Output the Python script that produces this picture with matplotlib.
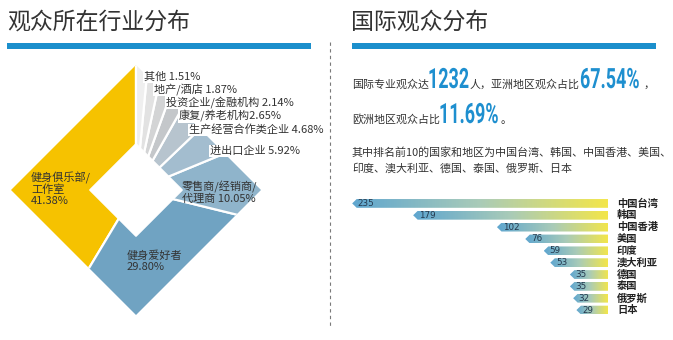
import numpy as np
import matplotlib
matplotlib.use("Agg")
import matplotlib.pyplot as plt
from matplotlib.patches import Polygon
from matplotlib.colors import LinearSegmentedColormap
from matplotlib.patheffects import AbstractPathEffect
from matplotlib.transforms import Affine2D

plt.rcParams['font.family'] = ['Noto Sans CJK SC', 'DejaVu Sans']

# 观众所在行业分布
industries = ['健身俱乐部/\n工作室', '健身爱好者', '零售商/经销商/\n代理商', '进出口企业',
              '生产经营合作类企业', '康复/养老机构', '投资企业/金融机构', '地产/酒店', '其他']
shares = [41.38, 29.80, 10.05, 5.92, 4.68, 2.65, 2.14, 1.87, 1.51]
industry_colors = ['#F6C200', '#70A3C2', '#8FB4CB', '#A3BDCF', '#B7C4CE',
                   '#C4C7CA', '#D3D4D5', '#E2E2E2', '#EFEFEF']

# 国际观众分布
regions = ['中国台湾', '韩国', '中国香港', '美国', '印度', '澳大利亚', '德国', '泰国', '俄罗斯', '日本']
visitors = [235, 179, 102, 76, 59, 53, 35, 35, 32, 29]
total_intl = 1232
asia_pct = 67.54
europe_pct = 11.69


class Tall(AbstractPathEffect):
    """Stretch glyphs vertically from the baseline (condensed, tall numerals)."""

    def __init__(self, sy):
        super().__init__()
        self.sy = sy

    def draw_path(self, renderer, gc, tpath, affine, rgbFace=None):
        ox, oy = affine.transform((0, 0))
        stretch = Affine2D().translate(-ox, -oy).scale(1, self.sy).translate(ox, oy)
        renderer.draw_path(gc, tpath, affine + stretch, rgbFace)


W, H = 673, 340
fig = plt.figure(figsize=(W / 100, H / 100), dpi=100)

bg = fig.add_axes([0, 0, 1, 1])
bg.set_xlim(0, W)
bg.set_ylim(H, 0)
bg.axis('off')
bg.set_zorder(5)

dark = '#333333'
blue = '#1E8FCF'

# headers
bg.text(7, 22, '观众所在行业分布', fontsize=16.5, color=dark, va='center', ha='left')
bg.text(351, 22, '国际观众分布', fontsize=16.5, color=dark, va='center', ha='left')
bg.add_patch(plt.Rectangle((7, 43), 304, 6, color='#1B8FCC', lw=0))
bg.add_patch(plt.Rectangle((352, 43), 304, 6, color='#1B8FCC', lw=0))
bg.plot([330, 330], [42, 326], color='#7a7a7a', lw=0.8, ls=(0, (3, 3)))

# diamond pie
cx, cy, half = 136, 190, 125
pie_ax = fig.add_axes([(cx - half) / W, (H - cy - half) / H, 2 * half / W, 2 * half / H])
wedges, _ = pie_ax.pie(shares, colors=industry_colors, startangle=90, counterclock=True,
                       radius=1.6, wedgeprops=dict(edgecolor='white', linewidth=1.6))
pie_ax.set_xlim(-1, 1)
pie_ax.set_ylim(-1, 1)
pie_ax.axis('off')
outer = Polygon([(0, 1), (1, 0), (0, -1), (-1, 0)], closed=True, transform=pie_ax.transData)
for w in wedges:
    w.set_clip_on(True)
    w.set_clip_path(outer)
hole = 0.37
pie_ax.add_patch(Polygon([(0, hole), (hole, 0), (0, -hole), (-hole, 0)], closed=True,
                         facecolor='white', edgecolor='white', zorder=5))

label_pos = [(31, 189), (127, 261), (182, 192), (210, 151), (189, 130),
             (179, 116), (166, 102), (154, 89), (144, 77)]
for name, share, (lx, ly) in zip(industries, shares, label_pos):
    if name.startswith('健身'):
        sep = '\n'
    elif name == '康复/养老机构':
        sep = ''
    else:
        sep = ' '
    label = f'{name}{sep}{share:.2f}%'
    boxed = share < 7
    bg.text(lx, ly, label, fontsize=8, color=dark, ha='left', va='center',
            linespacing=1.1, zorder=6,
            bbox=dict(facecolor='white', edgecolor='none', pad=0.4) if boxed else None)

# intro text
big = dict(fontsize=12.9, color=blue, fontweight='bold', va='baseline', family='Roboto',
           path_effects=[Tall(1.56)])
small = dict(fontsize=7.9, color=dark, va='baseline')
bg.text(352, 88, '国际专业观众达', **small)
bg.text(428, 88, f'{total_intl}', **big)
bg.text(470, 88, '人，亚洲地区观众占比', **small)
bg.text(580, 88, f'{asia_pct:.2f}%', **big)
bg.text(644, 88, '，', **small)
bg.text(352, 123, '欧洲地区观众占比', **small)
bg.text(439, 123, f'{europe_pct:.2f}%', **big)
bg.text(501, 123, '。', **small)
bg.text(352, 152, '其中排名前10的国家和地区为' + '、'.join(regions[:4]) + '、',
        fontsize=7.9, color=dark, va='center')
bg.text(352, 168, '、'.join(regions[4:]), fontsize=7.9, color=dark, va='center')

# ranked bars, growing leftwards from a common right edge
x0, x1 = 350, 608
y_top, y_bot = 197.5, 316
bar_ax = fig.add_axes([x0 / W, (H - y_bot) / H, (x1 - x0) / W, (y_bot - y_top) / H])
rows = np.arange(len(regions))
xmax = 237
bars = bar_ax.barh(rows, visitors, height=0.74, color='none', edgecolor='none')
bar_ax.axis('off')

grad = LinearSegmentedColormap.from_list('bar', ['#5FA6CF', '#A9CBB8', '#F3E64A'])
gradient = np.linspace(0, 1, 256).reshape(1, -1)
tip = 4.5 * xmax / (x1 - x0)
for b, v in zip(bars, visitors):
    y0 = b.get_y()
    h = b.get_height()
    shape = Polygon([(0, y0), (v - tip, y0), (v, y0 + h / 2), (v - tip, y0 + h), (0, y0 + h)],
                    closed=True, transform=bar_ax.transData, facecolor='none', edgecolor='none')
    bar_ax.add_patch(shape)
    im = bar_ax.imshow(gradient, cmap=grad, aspect='auto', extent=(v, 0, y0 + h, y0),
                       interpolation='bilinear', zorder=2)
    im.set_clip_path(shape)
    bar_ax.text(v - tip - 1, y0 + h / 2, f'{v}', fontsize=6.3, color='#24384d',
                ha='left', va='center', zorder=3, family='DejaVu Sans')
bar_ax.set_xlim(xmax, 0)
bar_ax.set_ylim(len(regions) - 0.5, -0.5)

for r, name in zip(rows, regions):
    yy = y_top + (r + 0.5) * (y_bot - y_top) / len(regions)
    bg.text(617, yy, name, fontsize=7.4, fontweight='bold', color='#222222',
            ha='left', va='center')

fig.savefig('out.png', dpi=100)
